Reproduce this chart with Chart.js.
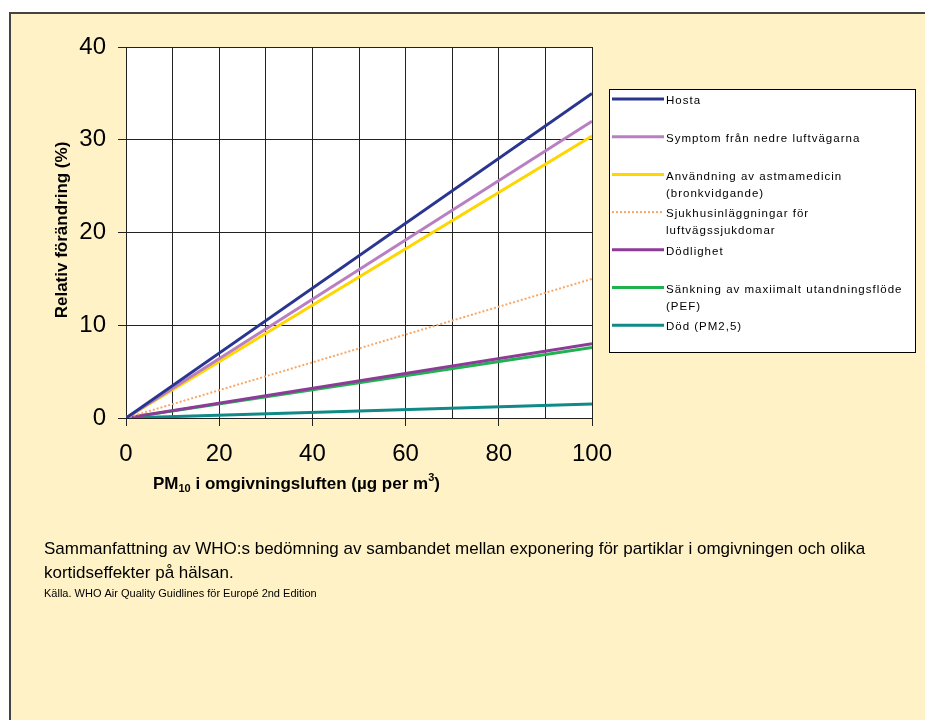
<!DOCTYPE html>
<html>
<head>
<meta charset="utf-8">
<script src="https://cdn.jsdelivr.net/npm/chart.js@4/dist/chart.umd.min.js"></script>
<style>
  html, body { margin: 0; padding: 0; background: #ffffff; }
  canvas { display: block; }
</style>
</head>
<body>
<canvas id="c" width="925" height="720"></canvas>
<script>
// ---- Data ----
const xValues = [0, 100];                       // PM10 (µg per m3)
const hostaValues = [0, 35];
const symptomValues = [0, 32];
const astmaValues = [0, 30.4];
const sjukhusValues = [0, 15];
const dodlighetValues = [0, 8];
const pefValues = [0, 7.6];
const dodPm25Values = [0, 1.5];

const seriesLabels = [
  'Hosta',
  'Symptom från nedre luftvägarna',
  'Användning av astmamedicin\n(bronkvidgande)',
  'Sjukhusinläggningar för\nluftvägssjukdomar',
  'Dödlighet',
  'Sänkning av maxiimalt utandningsflöde\n(PEF)',
  'Död (PM2,5)'
];
const seriesValues = [hostaValues, symptomValues, astmaValues, sjukhusValues, dodlighetValues, pefValues, dodPm25Values];
const seriesColors = ['#2a3590', '#b87fc2', '#ffd600', '#f7a868', '#8c3b97', '#1fb24f', '#108a86'];
const seriesDash = [[], [], [], [2, 2], [], [], []];
const seriesWidth = [3, 3, 3, 2, 3, 3, 3];

const xTickStep = 10, xLabelStep = 20;
const yTickStep = 10;
const yTitle = 'Relativ förändring (%)';
const captionLines = [
  'Sammanfattning av WHO:s bedömning av sambandet mellan exponering för partiklar i omgivningen och olika',
  'kortidseffekter på hälsan.'
];
const sourceText = 'Källa. WHO Air Quality Guidlines för Europé 2nd Edition';

const FONT = "'Liberation Sans', Arial, sans-serif";

const datasets = seriesLabels.map((lab, i) => ({
  label: lab,
  data: xValues.map((x, j) => ({ x: x, y: seriesValues[i][j] })),
  borderColor: seriesColors[i],
  backgroundColor: seriesColors[i],
  borderWidth: seriesWidth[i],
  borderDash: seriesDash[i],
  pointRadius: 0,
  tension: 0,
  fill: false
}));

const decoPlugin = {
  id: 'deco',
  beforeDraw(chart) {
    const ctx = chart.ctx;
    const ca = chart.chartArea;
    ctx.save();
    ctx.fillStyle = '#ffffff';
    ctx.fillRect(0, 0, chart.width, chart.height);
    ctx.fillStyle = '#fef2c6';
    ctx.fillRect(10, 13, chart.width - 10, chart.height - 13);
    ctx.strokeStyle = '#444444';
    ctx.lineWidth = 2;
    ctx.strokeRect(10, 13, chart.width + 20, chart.height + 20);
    ctx.fillStyle = '#ffffff';
    ctx.fillRect(ca.left, ca.top, ca.right - ca.left, ca.bottom - ca.top);
    ctx.restore();
  },
  afterDraw(chart) {
    const ctx = chart.ctx;
    const ca = chart.chartArea;
    ctx.save();
    // Y title
    ctx.fillStyle = '#000000';
    ctx.font = 'bold 17px ' + FONT;
    ctx.textAlign = 'center';
    ctx.textBaseline = 'alphabetic';
    ctx.translate(67, 230);
    ctx.rotate(-Math.PI / 2);
    ctx.fillText(yTitle, 0, 0);
    ctx.setTransform(1, 0, 0, 1, 0, 0);

    // X title with subscript / superscript
    ctx.textAlign = 'left';
    ctx.textBaseline = 'alphabetic';
    let x = 153, yb = 489;
    const parts = [
      { t: 'PM', f: 'bold 17px ', dy: 0 },
      { t: '10', f: 'bold 11px ', dy: 3 },
      { t: ' i omgivningsluften (µg per m', f: 'bold 17px ', dy: 0 },
      { t: '3', f: 'bold 11px ', dy: -8 },
      { t: ')', f: 'bold 17px ', dy: 0 }
    ];
    parts.forEach(p => {
      ctx.font = p.f + FONT;
      ctx.fillText(p.t, x, yb + p.dy);
      x += ctx.measureText(p.t).width;
    });

    // Legend box
    const lx = 609, ly = 89, lw = 306, lh = 263;
    ctx.fillStyle = '#ffffff';
    ctx.fillRect(lx, ly, lw, lh);
    ctx.strokeStyle = '#000000';
    ctx.lineWidth = 1;
    ctx.strokeRect(lx + 0.5, ly + 0.5, lw, lh);
    ctx.font = '11.5px ' + FONT;
    ctx.textBaseline = 'middle';
    ctx.textAlign = 'left';
    try { ctx.letterSpacing = '1px'; } catch (e) {}
    chart.data.datasets.forEach((ds, i) => {
      const ry = 99 + i * 37.7;
      ctx.strokeStyle = ds.borderColor;
      ctx.lineWidth = ds.borderWidth;
      ctx.setLineDash(ds.borderDash || []);
      ctx.beginPath();
      ctx.moveTo(612, ry);
      ctx.lineTo(664, ry);
      ctx.stroke();
      ctx.setLineDash([]);
      ctx.fillStyle = '#000000';
      ds.label.split('\n').forEach((line, k) => {
        ctx.fillText(line, 666, ry + 2 + k * 17);
      });
    });
    try { ctx.letterSpacing = '0px'; } catch (e) {}

    // Caption
    ctx.fillStyle = '#000000';
    ctx.textBaseline = 'middle';
    ctx.font = '17px ' + FONT;
    captionLines.forEach((line, k) => {
      ctx.fillText(line, 44, 549 + k * 24);
    });
    ctx.font = '11px ' + FONT;
    ctx.fillText(sourceText, 44, 594);
    ctx.restore();
  }
};

new Chart(document.getElementById('c'), {
  type: 'line',
  data: { datasets: datasets },
  plugins: [decoPlugin],
  options: {
    responsive: false,
    animation: false,
    devicePixelRatio: 1,
    layout: { padding: { top: 47, right: 333, left: 0, bottom: 242 } },
    plugins: { legend: { display: false }, tooltip: { enabled: false } },
    scales: {
      x: {
        type: 'linear',
        min: 0, max: 100,
        afterFit(scale) { scale.height = 60; },
        ticks: {
          stepSize: xTickStep,
          color: '#000000',
          font: { family: FONT, size: 24 },
          padding: 14,
          maxRotation: 0,
          autoSkip: false,
          callback: v => (v % xLabelStep === 0 ? String(v) : '')
        },
        grid: {
          color: '#222222',
          lineWidth: 1,
          tickLength: 8,
          tickColor: c => (c.tick && c.tick.value % xLabelStep === 0 ? '#222222' : 'rgba(0,0,0,0)')
        },
        border: { color: '#222222', width: 1 }
      },
      y: {
        type: 'linear',
        min: 0, max: 40,
        afterFit(scale) { scale.width = 126; },
        ticks: {
          stepSize: yTickStep,
          color: '#000000',
          font: { family: FONT, size: 24 },
          padding: 12
        },
        grid: { color: '#222222', lineWidth: 1, tickLength: 8, tickColor: '#222222' },
        border: { color: '#222222', width: 1 }
      }
    }
  }
});
</script>
</body>
</html>
